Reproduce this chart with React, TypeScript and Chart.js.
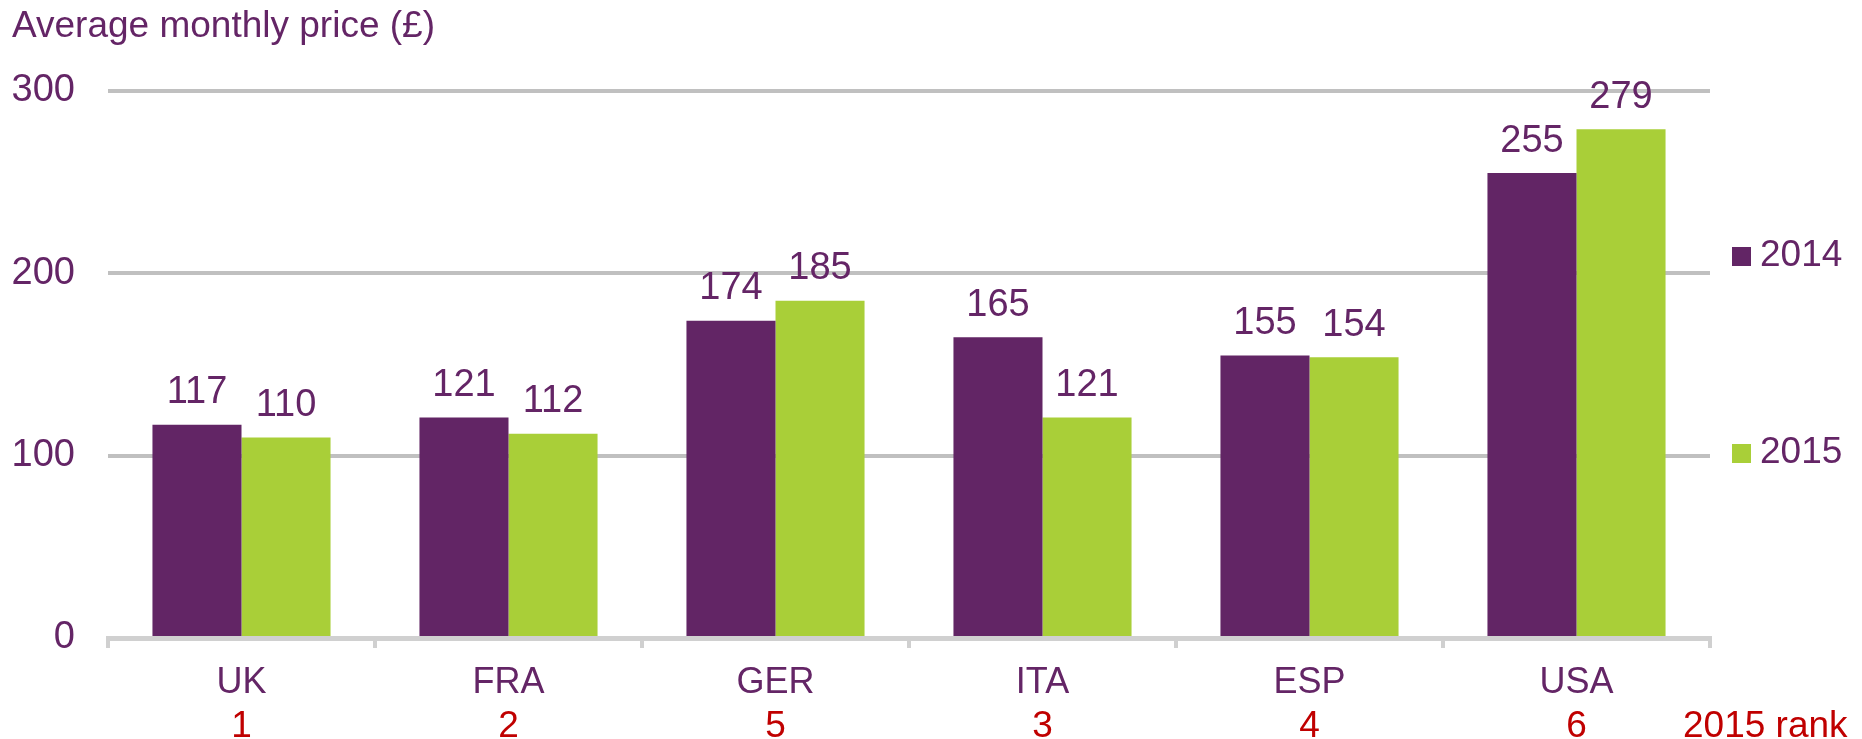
import React, { useEffect, useRef } from "react";
import { Chart, registerables } from "chart.js";

Chart.register(...registerables);

const categories = ["UK", "FRA", "GER", "ITA", "ESP", "USA"];
const values2014 = [117, 121, 174, 165, 155, 255];
const values2015 = [110, 112, 185, 121, 154, 279];
const ranks2015 = ["1", "2", "5", "3", "4", "6"];
const yTicks = [0, 100, 200, 300];
const seriesNames = ["2014", "2015"];

const PURPLE = "#622565";
const GREEN = "#a9cf38";
const TEXT = "#642566";
const RED = "#c00000";
const FONT = "'Liberation Sans', Arial, sans-serif";

const decorPlugin = {
  id: "decor",
  afterDraw(chart: any) {
    const ctx = chart.ctx;
    ctx.save();
    // title
    ctx.font = `37px ${FONT}`;
    ctx.fillStyle = TEXT;
    ctx.textAlign = "left";
    ctx.textBaseline = "alphabetic";
    ctx.fillText("Average monthly price (£)", 12, 37);

    // data labels
    ctx.font = `38px ${FONT}`;
    ctx.textAlign = "center";
    ctx.textBaseline = "middle";
    chart.data.datasets.forEach((ds: any, di: number) => {
      const meta = chart.getDatasetMeta(di);
      meta.data.forEach((el: any, i: number) => {
        ctx.fillText(String(ds.data[i]), el.x, el.y - 32);
      });
    });

    // ranks
    const xs = chart.scales.x;
    ctx.font = `37px ${FONT}`;
    ctx.fillStyle = RED;
    ctx.textBaseline = "alphabetic";
    ranks2015.forEach((r, i) => {
      ctx.textAlign = "center";
      ctx.fillText(r, xs.getPixelForValue(i), 737);
    });
    ctx.textAlign = "left";
    ctx.fillText("2015 rank", 1683, 737);

    // legend
    const items = [
      { label: seriesNames[0], color: PURPLE, y: 256 },
      { label: seriesNames[1], color: GREEN, y: 453 },
    ];
    items.forEach((it) => {
      ctx.fillStyle = it.color;
      ctx.fillRect(1732, it.y - 9, 19, 19);
      ctx.fillStyle = TEXT;
      ctx.textAlign = "left";
      ctx.textBaseline = "middle";
      ctx.fillText(it.label, 1760, it.y);
    });
    ctx.restore();
  },
};

export default function App() {
  const ref = useRef<HTMLCanvasElement>(null);
  useEffect(() => {
    if (!ref.current) return;
    const chart = new Chart(ref.current, {
      type: "bar",
      data: {
        labels: categories,
        datasets: [
          { label: seriesNames[0], data: values2014, backgroundColor: PURPLE, borderWidth: 0, categoryPercentage: 0.667, barPercentage: 1 },
          { label: seriesNames[1], data: values2015, backgroundColor: GREEN, borderWidth: 0, categoryPercentage: 0.667, barPercentage: 1 },
        ],
      },
      options: {
        responsive: false,
        maintainAspectRatio: false,
        animation: false,
        devicePixelRatio: 1,
        layout: { padding: { left: 0, top: 91, right: 152, bottom: 0 } },
        plugins: { legend: { display: false }, tooltip: { enabled: false } },
        scales: {
          x: {
            grid: { offset: true, drawOnChartArea: false, drawTicks: true, tickLength: 10, color: "#d0d0d0", lineWidth: 4 },
            border: { display: true, color: "#d0d0d0", width: 5 },
            ticks: { color: TEXT, font: { family: FONT, size: 36 }, padding: 13 },
            afterFit: (s: any) => { s.height = 101; },
          },
          y: {
            min: 0,
            max: 300,
            afterBuildTicks: (s: any) => { s.ticks = yTicks.map((v) => ({ value: v })); },
            grid: { color: "#c0c0c0", lineWidth: 4, drawTicks: false },
            border: { display: false },
            ticks: { color: TEXT, font: { family: FONT, size: 38 }, padding: 33 },
            afterFit: (s: any) => { s.width = 108; },
          },
        },
      },
      plugins: [decorPlugin],
    });
    return () => chart.destroy();
  }, []);
  return (
    <div style={{ position: "absolute", left: 0, top: 0, width: 1862, height: 739, background: "#fff" }}>
      <canvas ref={ref} width={1862} height={739} style={{ width: 1862, height: 739, display: "block" }} />
    </div>
  );
}
